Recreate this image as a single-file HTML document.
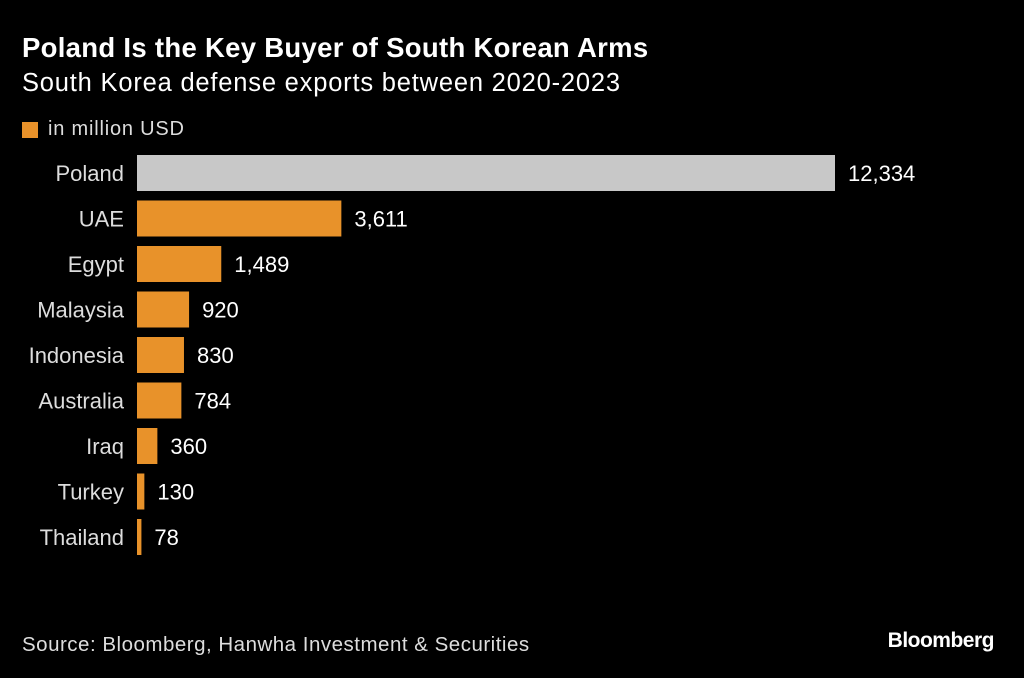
<!DOCTYPE html>
<html><head><meta charset="utf-8"><style>
body{margin:0;background:#000;width:1024px;height:678px;overflow:hidden;font-family:"Liberation Sans",sans-serif;color:#fff}
#title{position:absolute;left:22px;top:32px;font-size:27.5px;font-weight:bold;letter-spacing:0.3px}
#sub{position:absolute;left:22px;top:69px;font-size:25.5px;letter-spacing:0.8px}
#legend{position:absolute;left:22px;top:118px;font-size:20px;display:flex;align-items:center;color:#ddd;letter-spacing:0.8px}
#legend span.sw{display:inline-block;width:16px;height:16px;background:#E8922A;margin-right:10px}
#src{position:absolute;left:22px;top:633px;font-size:20.5px;color:#ddd;letter-spacing:0.5px}
#logo{position:absolute;right:30px;top:629px;font-size:21px;font-weight:bold;letter-spacing:-0.5px}
</style></head><body>
<div id="title">Poland Is the Key Buyer of South Korean Arms</div>
<div id="sub">South Korea defense exports between 2020-2023</div>
<div id="legend"><span class="sw"></span>in million USD</div>
<svg id="chart" width="1024" height="678" style="position:absolute;left:0;top:0"></svg>
<div id="src">Source: Bloomberg, Hanwha Investment &amp; Securities</div>
<div id="logo">Bloomberg</div>
<script>
const categories=["Poland","UAE","Egypt","Malaysia","Indonesia","Australia","Iraq","Turkey","Thailand"];
const values=[12334,3611,1489,920,830,784,360,130,78];
const valueLabels=["12,334","3,611","1,489","920","830","784","360","130","78"];
const svg=document.getElementById('chart');
const NS="http://www.w3.org/2000/svg";
const x0=137,xScale=v=>x0+v*(698/12334);
const yCenter=i=>173+i*45.5;
const bh=36;
categories.forEach((c,i)=>{
  const r=document.createElementNS(NS,'rect');
  r.setAttribute('x',x0);r.setAttribute('y',yCenter(i)-bh/2);
  r.setAttribute('width',Math.max(xScale(values[i])-x0,1));r.setAttribute('height',bh);
  r.setAttribute('fill',i===0?'#C8C8C8':'#E8922A');
  
  
  svg.appendChild(r);
  const t=document.createElementNS(NS,'text');
  t.setAttribute('x',124);t.setAttribute('y',yCenter(i)+8);
  t.setAttribute('text-anchor','end');t.setAttribute('fill','#ddd');
  t.setAttribute('font-size','22');t.setAttribute('font-family','Liberation Sans, sans-serif');
  t.textContent=c;
  
  
  svg.appendChild(t);
  const v=document.createElementNS(NS,'text');
  v.setAttribute('x',xScale(values[i])+13);v.setAttribute('y',yCenter(i)+8);
  v.setAttribute('fill','#fff');v.setAttribute('font-size','22');
  v.setAttribute('font-family','Liberation Sans, sans-serif');
  v.textContent=valueLabels[i];
  
  
  svg.appendChild(v);
});
</script>
</body></html>
